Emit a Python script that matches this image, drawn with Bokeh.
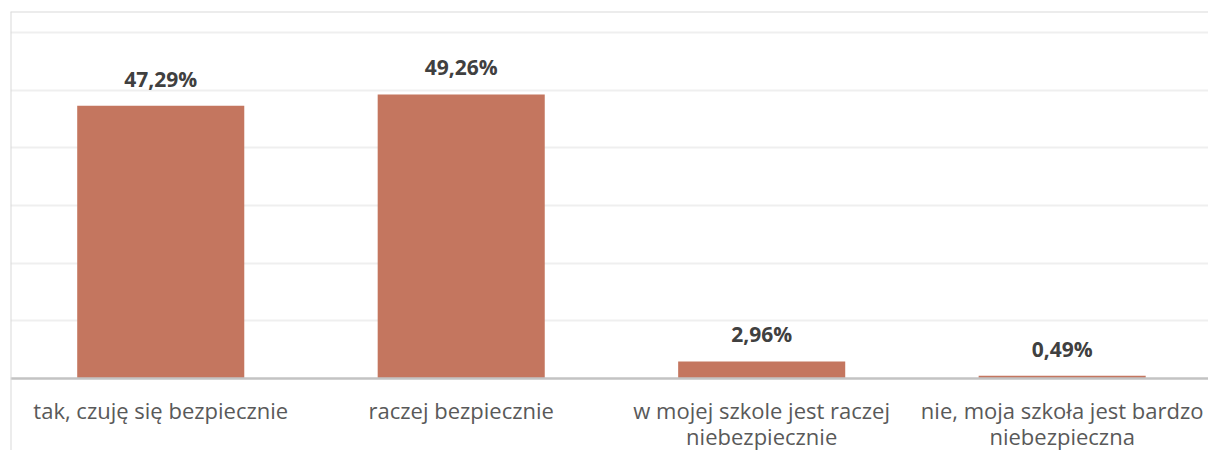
from bokeh.plotting import figure
from bokeh.models import Span, Range1d, FixedTicker, ColumnDataSource
from bokeh.core.properties import value
from bokeh.embed import file_html
from bokeh.resources import INLINE

categories = ["tak, czuję się bezpiecznie", "raczej bezpiecznie",
              "w mojej szkole jest raczej\nniebezpiecznie",
              "nie, moja szkoła jest bardzo\nniebezpieczna"]
values = [47.29, 49.26, 2.96, 0.49]
grid_ticks = [10, 20, 30, 40, 50, 60]

xs = [i + 0.5 for i in range(len(categories))]
labels = [f"{v:.2f}".replace(".", ",") + "%" for v in values]
line1 = [c.split("\n")[0] for c in categories]
line2 = [c.split("\n")[1] if "\n" in c else "" for c in categories]

src = ColumnDataSource(dict(x=xs, top=values, lab=labels, l1=line1, l2=line2,
                            zero=[0] * len(values)))

p = figure(width=1208, height=450, output_backend="svg", toolbar_location=None,
           x_range=Range1d(0, 3.987), y_range=Range1d(-12.48, 63.64),
           x_axis_location=None, y_axis_location=None,
           min_border_left=10, min_border_top=11, min_border_right=0, min_border_bottom=0)
p.outline_line_color = None
p.background_fill_color = "white"
p.border_fill_color = "white"
p.xgrid.visible = False
p.ygrid.ticker = FixedTicker(ticks=grid_ticks)
p.ygrid.grid_line_color = "#efefef"
p.ygrid.grid_line_width = 2

p.vbar(x="x", top="top", bottom=0, width=0.556, source=src,
       fill_color="#c4765f", line_color=None)

p.add_layout(Span(location=0, dimension="width", line_color="#c3c3c3", line_width=2.5))
p.add_layout(Span(location=p.x_range.start, dimension="height", line_color="#d9d9d9", line_width=2))
p.add_layout(Span(location=p.y_range.end, dimension="width", line_color="#d9d9d9", line_width=2))

p.text(x="x", y="top", text="lab", source=src, text_align="center",
       text_baseline="alphabetic", y_offset=-27,
       text_font=value("Open Sans"), text_font_style="bold",
       text_font_size="21px", text_color="#404040")
p.text(x="x", y="zero", text="l1", source=src, text_align="center",
       text_baseline="alphabetic", y_offset=31,
       text_font=value("Open Sans"), text_font_size="22px", text_color="#595959")
p.text(x="x", y="zero", text="l2", source=src, text_align="center",
       text_baseline="alphabetic", y_offset=57,
       text_font=value("Open Sans"), text_font_size="22px", text_color="#595959")

open("out.html", "w").write(file_html(p, INLINE))
